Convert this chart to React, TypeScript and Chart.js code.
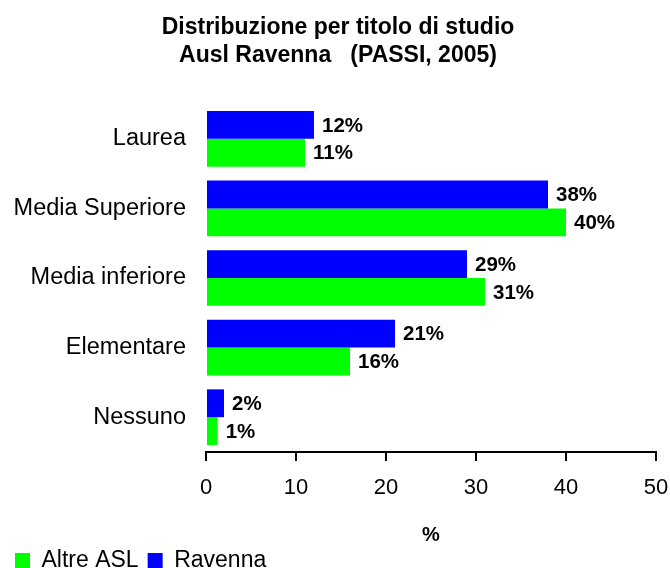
import React, { useEffect, useRef } from "react";
import { Chart, registerables } from "chart.js";

Chart.register(...registerables);

const categories = ["Laurea", "Media Superiore", "Media inferiore", "Elementare", "Nessuno"];
const ravennaValues = [12, 38, 29, 21, 2];
const altreAslValues = [11, 40, 31, 16, 1.3];
const xTicks = [0, 10, 20, 30, 40, 50];
const chartTitle = ["Distribuzione per titolo di studio", "Ausl Ravenna   (PASSI, 2005)"];
const xAxisTitle = "%";
const ravennaName = "Ravenna";
const altreName = "Altre ASL";

const FONT = "'Liberation Sans', Arial, sans-serif";

const valueLabels = {
  id: "valueLabels",
  afterDatasetsDraw(chart: any) {
    const ctx = chart.ctx;
    ctx.save();
    ctx.font = `bold 20.5px ${FONT}`;
    ctx.fillStyle = "#000";
    ctx.textAlign = "left";
    ctx.textBaseline = "middle";
    chart.data.datasets.forEach((ds: any, i: number) => {
      const meta = chart.getDatasetMeta(i);
      meta.data.forEach((bar: any, j: number) => {
        const v = ds.data[j];
        ctx.fillText(`${Math.round(v)}%`, bar.x + 8, bar.y + 1);
      });
    });
    ctx.restore();
  },
};

export default function App() {
  const ref = useRef<HTMLCanvasElement | null>(null);
  useEffect(() => {
    document.body.style.margin = "0";
    const canvas = ref.current;
    if (!canvas) return;
    const chart = new Chart(canvas, {
      type: "bar",
      data: {
        labels: categories,
        datasets: [
          {
            label: ravennaName,
            data: ravennaValues,
            backgroundColor: "#0000FF",
            borderWidth: 0,
            barPercentage: 1,
            categoryPercentage: 0.8,
          },
          {
            label: altreName,
            data: altreAslValues,
            backgroundColor: "#00FF00",
            borderWidth: 0,
            barPercentage: 1,
            categoryPercentage: 0.8,
          },
        ],
      },
      options: {
        indexAxis: "y",
        responsive: false,
        animation: false,
        layout: { padding: { left: 6, right: 0, top: 0, bottom: -14 } },
        plugins: {
          title: {
            display: true,
            text: chartTitle,
            color: "#000",
            font: { family: FONT, size: 23, weight: "bold", lineHeight: 28 / 23 },
            padding: { top: 14, bottom: 34 },
          },
          legend: {
            position: "bottom",
            align: "start",
            reverse: true,
            labels: {
              color: "#000",
              font: { family: FONT, size: 23 },
              boxWidth: 15,
              boxHeight: 15,
              padding: 9,
            },
          },
          tooltip: { enabled: false },
        },
        scales: {
          x: {
            min: 0,
            max: 50,
            afterBuildTicks: (axis: any) => {
              axis.ticks = xTicks.map((v) => ({ value: v }));
            },
            afterFit: (s: any) => {
              s.paddingRight = 14;
              s.paddingLeft = 0;
            },
            ticks: { color: "#000", font: { family: FONT, size: 22 }, padding: 14 },
            grid: {
              display: true,
              drawOnChartArea: false,
              drawTicks: true,
              tickLength: 9,
              color: "#000",
              lineWidth: 2,
            },
            border: { display: true, color: "#000", width: 2 },
            title: {
              display: true,
              text: xAxisTitle,
              color: "#000",
              font: { family: FONT, size: 20, weight: "bold", lineHeight: 0.5 },
              padding: { top: 14.6, bottom: 0 },
            },
          },
          y: {
            ticks: { color: "#000", font: { family: FONT, size: 23.5 }, padding: 20 },
            grid: { display: false, drawTicks: false },
            border: { display: false },
            afterFit: (s: any) => {
              s.width = 200;
            },
          },
        },
      },
      plugins: [valueLabels],
    } as any);
    return () => chart.destroy();
  }, []);
  return <canvas ref={ref} width={670} height={568} style={{ display: "block" }} />;
}
